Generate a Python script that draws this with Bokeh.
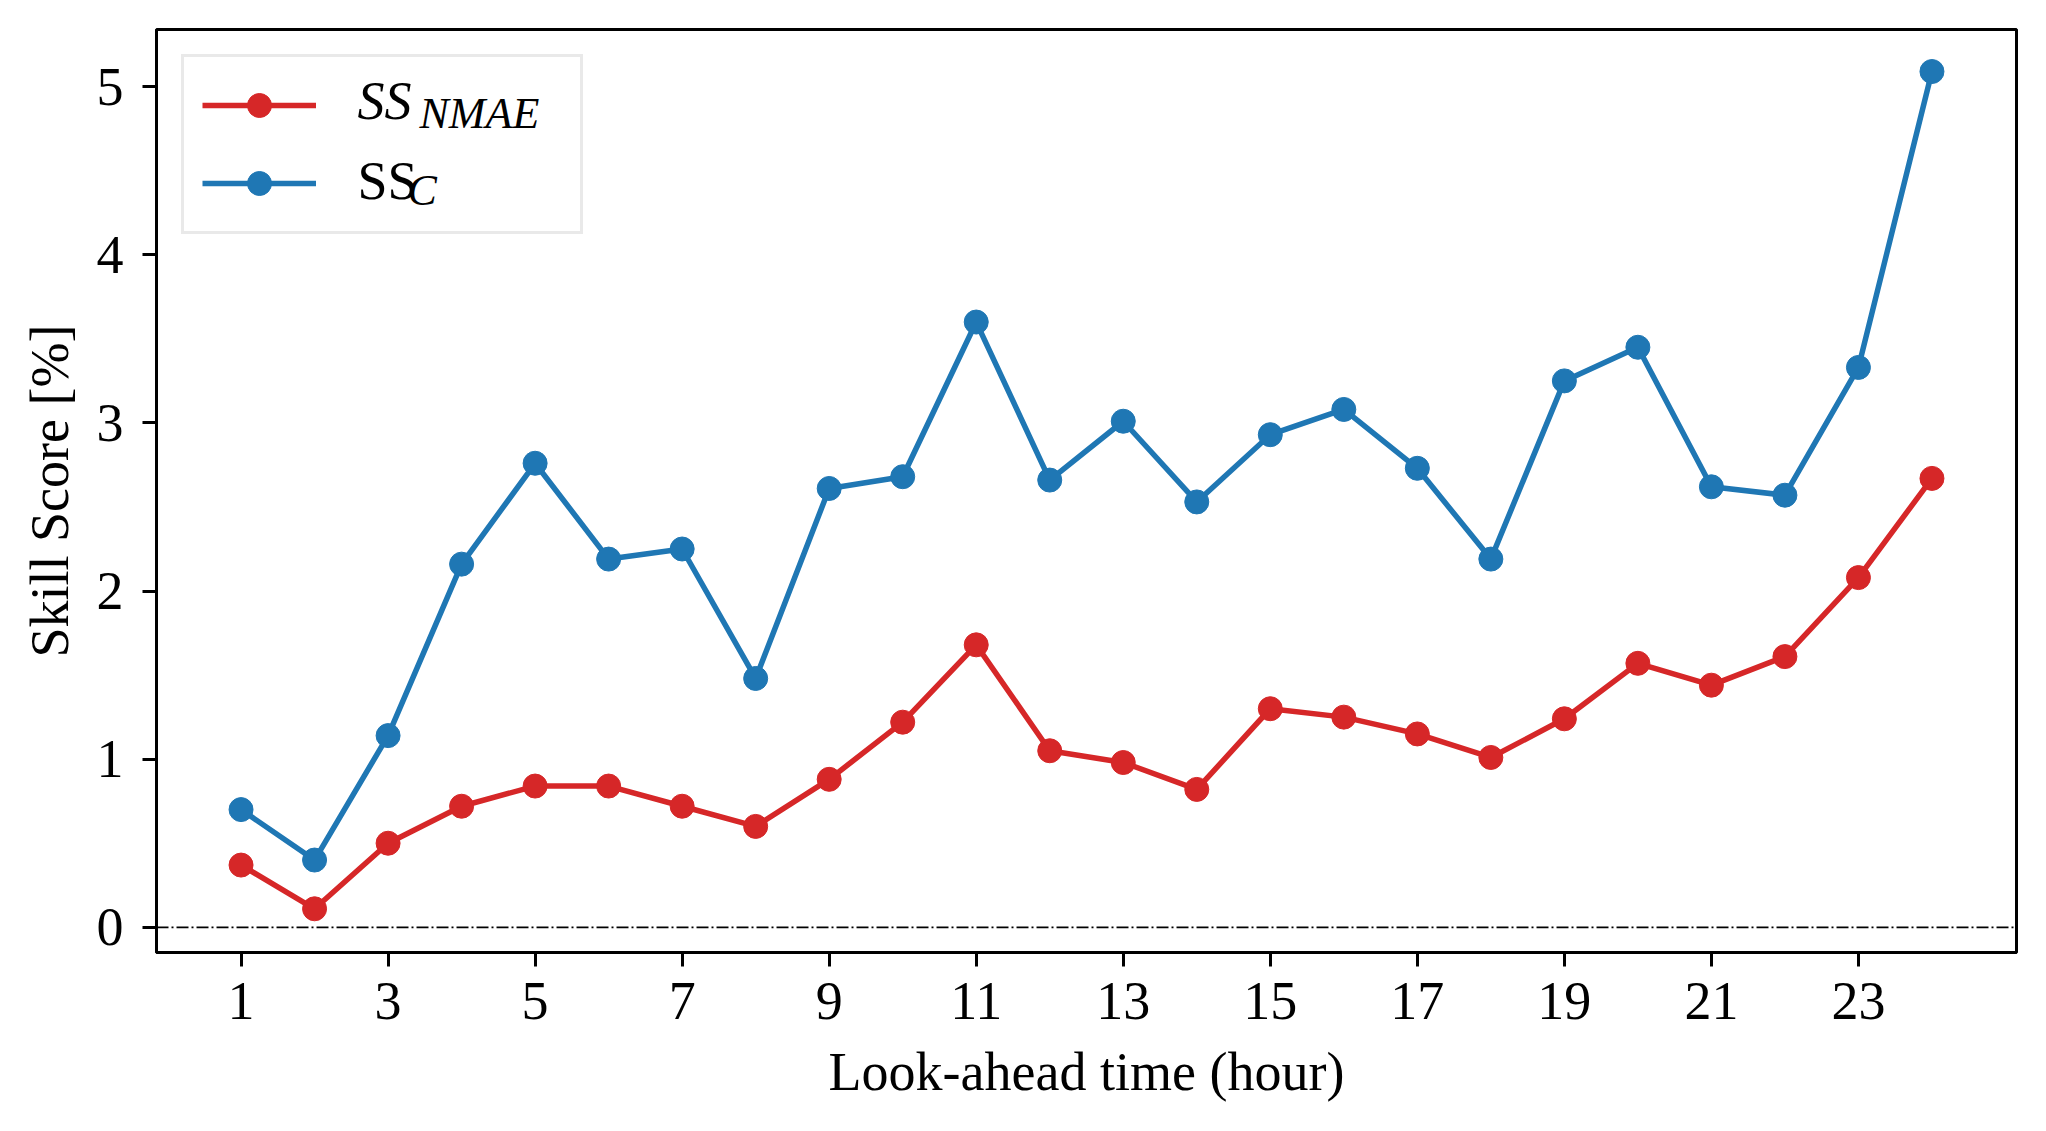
from bokeh.plotting import figure
from bokeh.models import FixedTicker, Span, Legend, LegendItem, Label, Range1d
from bokeh.embed import file_html
from bokeh.resources import INLINE

# ---- data ----
hours = list(range(1, 25))
ss_nmae = [0.37, 0.11, 0.50, 0.72, 0.84, 0.84, 0.72, 0.60, 0.88, 1.22, 1.68, 1.05,
           0.98, 0.82, 1.30, 1.25, 1.15, 1.01, 1.24, 1.57, 1.44, 1.61, 2.08, 2.67]
ss_c = [0.70, 0.40, 1.14, 2.16, 2.76, 2.19, 2.25, 1.48, 2.61, 2.68, 3.60, 2.66,
        3.01, 2.53, 2.93, 3.08, 2.73, 2.19, 3.25, 3.45, 2.62, 2.57, 3.33, 5.09]
x_ticks = [1, 3, 5, 7, 9, 11, 13, 15, 17, 19, 21, 23]
y_ticks = [0, 1, 2, 3, 4, 5]
baseline = 0
x_label = "Look-ahead time (hour)"
y_label = "Skill Score [%]"

RED = "#d62728"
BLUE = "#1f77b4"
FONT = "Liberation Serif"
FS = "54px"

p = figure(width=2038, height=1118, output_backend="svg", toolbar_location=None,
           x_range=Range1d(-0.15, 25.15), y_range=Range1d(-0.15, 5.34),
           min_border_left=156, min_border_right=22, min_border_top=29,
           min_border_bottom=166)
p.background_fill_color = "white"
p.border_fill_color = "white"
p.outline_line_color = "black"
p.outline_line_width = 3
p.outline_line_alpha = 1.0
p.xgrid.visible = False
p.ygrid.visible = False

for ax in (p.xaxis[0], p.yaxis[0]):
    ax.axis_line_width = 3
    ax.axis_line_color = "black"
    ax.major_tick_line_width = 3
    ax.major_tick_line_color = "black"
    ax.major_tick_in = 0
    ax.major_tick_out = 14
    ax.minor_tick_line_color = None
    ax.major_label_text_font = FONT
    ax.major_label_text_font_size = FS
    ax.major_label_text_color = "black"
    ax.axis_label_text_font = FONT
    ax.axis_label_text_font_size = FS
    ax.axis_label_text_font_style = "normal"
    ax.axis_label_text_color = "black"

p.xaxis.ticker = FixedTicker(ticks=x_ticks)
p.yaxis.ticker = FixedTicker(ticks=y_ticks)
p.xaxis.axis_label = x_label
p.yaxis.axis_label = y_label
p.xaxis.major_label_standoff = 16
p.xaxis.axis_label_standoff = 20
p.yaxis.major_label_standoff = 19
p.yaxis.axis_label_standoff = 14

p.add_layout(Span(location=baseline, dimension="width", line_color="black",
                  line_width=1.8, line_dash="12 3 2 3"))

r_line = p.line(hours, ss_nmae, line_color=RED, line_width=5.5)
r_pts = p.scatter(hours, ss_nmae, size=24, fill_color=RED, line_color=RED)
b_line = p.line(hours, ss_c, line_color=BLUE, line_width=5.5)
b_pts = p.scatter(hours, ss_c, size=24, fill_color=BLUE, line_color=BLUE)

legend = Legend(items=[LegendItem(label=" ", renderers=[r_line, r_pts]),
                       LegendItem(label=" ", renderers=[b_line, b_pts])],
                location="top_left", margin=25, padding=18, spacing=18,
                glyph_width=114, glyph_height=60, label_height=60,
                label_width=205, label_standoff=41,
                label_text_font_size="10px",
                border_line_color="#d3d3d3", border_line_width=3,
                background_fill_color="white", background_fill_alpha=0.0)
p.add_layout(legend)

x0 = p.x_range.start
y1 = p.y_range.end


def add_text(txt, dx, dy, size, style):
    p.add_layout(Label(x=x0, y=y1, x_offset=dx, y_offset=-dy, text=txt,
                       text_font=FONT, text_font_size=size,
                       text_font_style=style, text_baseline="alphabetic",
                       text_align="left", text_color="black", level="overlay"))


add_text("SS", 201, 71, FS, "italic")
add_text("NMAE", 263, 84, "44px", "italic")
add_text("SS", 201, 151, FS, "normal")
add_text("C", 251, 161, "44px", "italic")

open("out.html", "w").write(file_html(p, INLINE))
